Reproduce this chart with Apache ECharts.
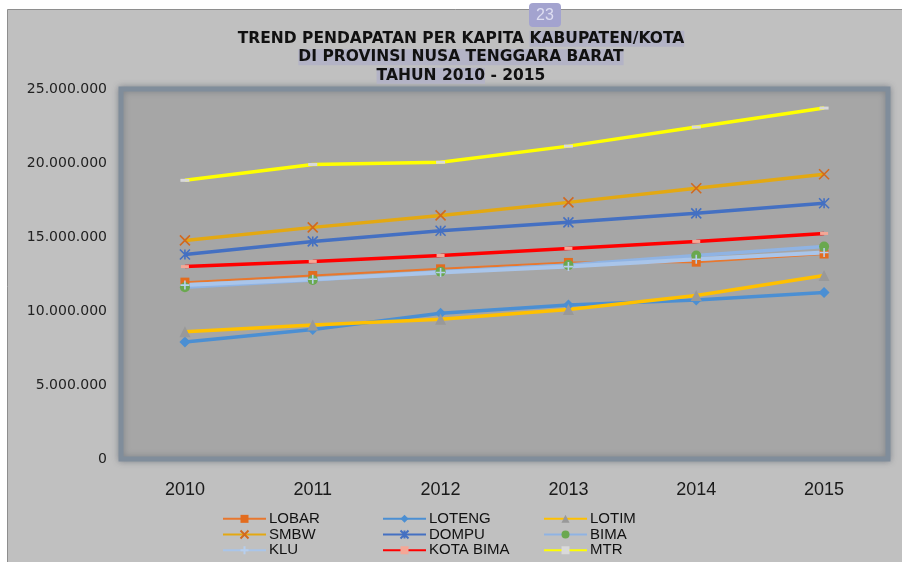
<!DOCTYPE html>
<html>
<head>
<meta charset="utf-8">
<script src="https://cdn.jsdelivr.net/npm/echarts@6/dist/echarts.min.js"></script>
<style>
  html, body { margin: 0; padding: 0; background: #fff; }
  #chart { width: 902px; height: 562px; }
</style>
</head>
<body>
<div id="chart"></div>
<script>
// data
const years = ['2010', '2011', '2012', '2013', '2014', '2015'];
const yTicks = [0, 5000000, 10000000, 15000000, 20000000, 25000000];

const lobar    = [11950000, 12400000, 12850000, 13280000, 13300000, 13850000];
const loteng   = [7900000, 8750000, 9850000, 10400000, 10750000, 11250000];
const lotim    = [8600000, 9050000, 9450000, 10100000, 11050000, 12400000];
const smbw     = [14770000, 15650000, 16460000, 17340000, 18290000, 19240000];
const dompu    = [13820000, 14700000, 15420000, 15990000, 16600000, 17280000];
const bima     = [11600000, 12100000, 12650000, 13100000, 13750000, 14350000];
const klu      = [11750000, 12150000, 12600000, 13000000, 13500000, 13950000];
const kotaBima = [13000000, 13350000, 13750000, 14230000, 14700000, 15240000];
const mtr      = [18830000, 19900000, 20050000, 21140000, 22430000, 23710000];

const chart = echarts.init(document.getElementById('chart'), null, { renderer: 'canvas' });

function titik(v) {
    return String(v).replace(/\B(?=(\d{3})+(?!\d))/g, '.');
}

// one line series, markers styled like the excel ones
function garis(name, data, lineColor, width, symbol, size, fill, stroke, strokeW) {
    return {
        name: name,
        type: 'line',
        data: data,
        symbol: symbol,
        symbolSize: size,
        showAllSymbol: true,
        lineStyle: { color: lineColor, width: width },
        itemStyle: { color: fill, borderColor: stroke || fill, borderWidth: strokeW || 0 },
        emphasis: { disabled: true }
    };
}

const hl = '#b3b3c6';
const titleFont = { fontFamily: 'DejaVu Sans', fontWeight: 'bold', fontSize: 15.5, lineHeight: 18.5, fill: '#111' };

const legendBase = {
    orient: 'vertical',
    top: 511,
    padding: 0,
    itemWidth: 43,
    itemHeight: 10,
    itemGap: 0,
    textStyle: { fontFamily: 'Liberation Sans', fontSize: 15, lineHeight: 15.7, color: '#111', padding: [0, 0, 0, -2] }
};

const option = {
    backgroundColor: '#fff',
    animation: false,
    graphic: [
        {
            type: 'rect', z: -100, silent: true,
            shape: { x: 7.5, y: 9.5, width: 900, height: 560 },
            style: { fill: '#c0c0c0', stroke: '#8e8e8e', lineWidth: 1 }
        },
        {
            type: 'rect', z: 50, silent: true,
            shape: { x: 529, y: 3, width: 32, height: 24, r: 4 },
            style: { fill: '#a3a3cf' }
        },
        {
            type: 'text', z: 51, silent: true, x: 545, y: 16,
            style: { text: '23', fontFamily: 'Liberation Sans', fontSize: 16, fill: '#dedef2', align: 'center', verticalAlign: 'middle' }
        },
        {
            type: 'text', z: 40, silent: true, x: 461, y: 29.5,
            style: Object.assign({
                text: 'TREND PENDAPATAN PER KAPITA {h|KABUPATEN/KOTA}\n{h|DI PROVINSI NUSA TENGGARA BARAT}\n{h|TAHUN 2010} - 2015',
                align: 'center',
                verticalAlign: 'top',
                rich: {
                    h: Object.assign({ backgroundColor: hl }, titleFont)
                }
            }, titleFont)
        }
    ],
    legend: [
        Object.assign({ left: 222, data: ['LOBAR', 'SMBW', 'KLU'] }, legendBase),
        Object.assign({ left: 382, data: ['LOTENG', 'DOMPU', 'KOTA BIMA'] }, legendBase),
        Object.assign({ left: 543, data: ['LOTIM', 'BIMA', 'MTR'] }, legendBase)
    ],
    grid: {
        show: true,
        left: 121,
        right: 14,
        top: 89,
        bottom: 103,
        backgroundColor: '#a6a6a6',
        borderColor: '#808d9b',
        borderWidth: 5,
        shadowBlur: 6,
        shadowColor: 'rgba(60,70,85,0.4)'
    },
    xAxis: {
        type: 'category',
        data: years,
        boundaryGap: true,
        axisLine: { show: false },
        axisTick: { show: false },
        axisLabel: { margin: 22, fontFamily: 'Liberation Sans', fontSize: 18, color: '#1a1a1a' }
    },
    yAxis: {
        type: 'value',
        min: yTicks[0],
        max: yTicks[yTicks.length - 1],
        interval: yTicks[1] - yTicks[0],
        axisLine: { show: false },
        axisTick: { show: false },
        splitLine: { show: false },
        axisLabel: {
            margin: 14,
            fontFamily: 'DejaVu Sans',
            fontSize: 14,
            color: '#222',
            formatter: titik
        }
    },
    series: [
        garis('LOBAR', lobar, '#e8772e', 2, 'rect', 9, '#e36c1e'),
        garis('LOTENG', loteng, '#4b8fd3', 3.5, 'diamond', 11, '#4b8fd3'),
        garis('LOTIM', lotim, '#ffc000', 3.5, 'triangle', 11, '#999999'),
        garis('SMBW', smbw, '#e3a812', 3.5, 'path://M0,0L10,10M10,0L0,10', 10, '#d2691e', '#d2691e', 1.6),
        garis('DOMPU', dompu, '#4470c2', 3.5, 'path://M5,0L5,10M0,0L10,10M10,0L0,10', 10, '#4470c2', '#4470c2', 1.6),
        garis('BIMA', bima, '#8fb3e3', 3.5, 'circle', 10, '#6aa84f'),
        garis('KLU', klu, '#a9c5ea', 4, 'path://M5,0L5,10M0,5L10,5', 9, '#b7cfee', '#b7cfee', 1.6),
        garis('KOTA BIMA', kotaBima, '#ff0000', 3.5, 'rect', [8, 3], '#f5a796'),
        garis('MTR', mtr, '#ffff00', 3.5, 'rect', [9, 3], '#d9d9d9')
    ]
};

chart.setOption(option);
window.addEventListener('resize', chart.resize);
</script>
</body>
</html>
